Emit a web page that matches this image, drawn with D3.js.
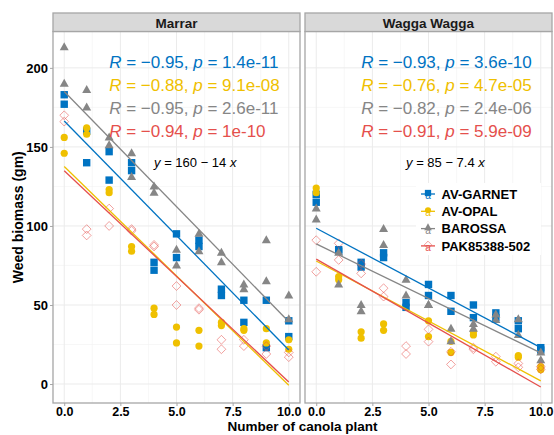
<!DOCTYPE html>
<html>
<head>
<meta charset="utf-8">
<script src="https://cdn.jsdelivr.net/npm/d3@7"></script>
<style>
  body { margin: 0; background: #fff; }
  svg { font-family: "Liberation Sans", Arial, sans-serif; }
</style>
</head>
<body>
<div id="chart"></div>
<script>
const width = 554;
const height = 435;

// ---- data ----
const canola = [0, 1, 2, 3, 4, 5, 6, 7, 8, 9, 10];
const cultivars = ["AV-GARNET", "AV-OPAL", "BAROSSA", "PAK85388-502"];
const sites = ["Marrar", "Wagga Wagga"];

// weed biomass, replicates for each canola density (0..10)
const marrar_garnet = [[183, 177], [160, 140], [147, 129], [140, 135], [77, 72], [95, 80], [91, 87], [60, 56], [53, 39], [53, 23], [40, 30]];
const marrar_opal = [[156, 146], [162, 158], [123, 121], [87, 84], [48, 44], [36, 26], [34, 24], [39, 37], [35, 34], [35, 26], [28, 22]];
const marrar_barossa = [[213, 190], [186, 175], [156, 151], [146, 131], [125, 121], [85, 75], [95, 84], [83, 77], [63, 60], [91, 65], [56, 41]];
const marrar_pak = [[170, 166], [98, 94], [111, 100], [98, 97], [88, 87], [62, 50], [48, 47], [28, 22], [28, 24], [24, 19], [20, 17]];

const wagga_garnet = [[120, 115], [85, 84], [77, 74], [83, 80], [51.5, 48.5], [63, 56], [56, 46], [50, 42], [45, 42], [40, 35], [23, 21.5]];
const wagga_opal = [[124, 121], [68, 66], [33, 29], [38, 34], [], [40, 30], [27, 20], [33, 31], [], [18, 17], [11, 9]];
const wagga_barossa = [[111, 104], [83, 63], [50, 46], [98, 88], [66, 56], [50, 50], [35, 27], [38, 35], [44, 40.5], [41, 31], [20, 15]];
const wagga_pak = [[91, 71], [89, 78.5], [76, 70], [60.6, 55.3], [24, 19], [34.6, 26.8], [20.4, 12.4], [23, 22], [17.3, 14.1], [13, 10.6], [11, 9.3]];

// stat_cor labels
const marrar_R = ["\u22120.95", "\u22120.88", "\u22120.95", "\u22120.94"];
const marrar_p = ["1.4e-11", "9.1e-08", "2.6e-11", "1e-10"];
const wagga_R = ["\u22120.93", "\u22120.76", "\u22120.82", "\u22120.91"];
const wagga_p = ["3.6e-10", "4.7e-05", "2.4e-06", "5.9e-09"];
const eq_intercept = ["160", "85"];
const eq_slope = ["14", "7.4"];

const x_ticks = [0, 2.5, 5, 7.5, 10];
const y_ticks = [0, 50, 100, 150, 200];

// colors / shapes per cultivar
const colors = ["#0073C2", "#EFC000", "#868686", "#E5504C"];
const shapes = ["square", "circle", "triangle", "diamond"];

const site_data = [
  [marrar_garnet, marrar_opal, marrar_barossa, marrar_pak],
  [wagga_garnet, wagga_opal, wagga_barossa, wagga_pak]
];
const site_R = [marrar_R, wagga_R];
const site_p = [marrar_p, wagga_p];

// ---- layout ----
const panels = [
  { left: 53, right: 300 },
  { left: 305, right: 552 }
];
const strip_top = 13;
const panel_top = 31.5;
const panel_bottom = 403;

const svg = d3
  .select("#chart")
  .append("svg")
  .attr("width", width)
  .attr("height", height);

svg.append("rect").attr("width", width).attr("height", height).attr("fill", "#fff");

const y = d3.scaleLinear().domain([-12, 223]).range([panel_bottom, panel_top]);

// flatten replicates to points
function toPoints(reps) {
  let pts = [];
  reps.forEach((vals, i) => vals.forEach((v) => pts.push({ x: canola[i], y: v })));
  return pts;
}

// least squares line
function fit(pts) {
  let mx = d3.mean(pts, (d) => d.x);
  let my = d3.mean(pts, (d) => d.y);
  let sxy = d3.sum(pts, (d) => (d.x - mx) * (d.y - my));
  let sxx = d3.sum(pts, (d) => (d.x - mx) * (d.x - mx));
  let b = sxy / sxx;
  return { a: my - b * mx, b: b };
}

function drawShape(g, shape, cx, cy, color, scale) {
  let s = scale || 1;
  if (shape === "square") {
    let h = 3.7 * s;
    g.append("rect")
      .attr("x", cx - h).attr("y", cy - h)
      .attr("width", 2 * h).attr("height", 2 * h)
      .attr("fill", color);
  } else if (shape === "circle") {
    g.append("circle").attr("cx", cx).attr("cy", cy).attr("r", 3.6 * s).attr("fill", color);
  } else if (shape === "triangle") {
    let r = 5 * s;
    g.append("path")
      .attr("d", `M${cx},${cy - r}L${cx + r * 0.9},${cy + r * 0.6}L${cx - r * 0.9},${cy + r * 0.6}Z`)
      .attr("fill", color);
  } else {
    let r = 4.4 * s;
    g.append("path")
      .attr("d", `M${cx},${cy - r}L${cx + r},${cy}L${cx},${cy + r}L${cx - r},${cy}Z`)
      .attr("fill", "none")
      .attr("stroke", color)
      .attr("stroke-width", 0.9)
      .attr("stroke-opacity", 0.6);
  }
}

sites.forEach((site, si) => {
  let p = panels[si];
  let x = d3.scaleLinear().domain([-0.5, 10.5]).range([p.left, p.right]);
  let g = svg.append("g");

  // grid: minor then major
  let xMinor = [1.25, 3.75, 6.25, 8.75];
  let yMinor = [25, 75, 125, 175];
  g.selectAll(".xminor").data(xMinor).enter().append("line")
    .attr("x1", (d) => x(d)).attr("x2", (d) => x(d))
    .attr("y1", panel_top).attr("y2", panel_bottom)
    .attr("stroke", "#f2f2f2").attr("stroke-width", 0.6);
  g.selectAll(".yminor").data(yMinor).enter().append("line")
    .attr("x1", p.left).attr("x2", p.right)
    .attr("y1", (d) => y(d)).attr("y2", (d) => y(d))
    .attr("stroke", "#f2f2f2").attr("stroke-width", 0.6);
  g.selectAll(".xmajor").data(x_ticks).enter().append("line")
    .attr("x1", (d) => x(d)).attr("x2", (d) => x(d))
    .attr("y1", panel_top).attr("y2", panel_bottom)
    .attr("stroke", "#ebebeb").attr("stroke-width", 1);
  g.selectAll(".ymajor").data(y_ticks).enter().append("line")
    .attr("x1", p.left).attr("x2", p.right)
    .attr("y1", (d) => y(d)).attr("y2", (d) => y(d))
    .attr("stroke", "#ebebeb").attr("stroke-width", 1);

  // points
  let groups = site_data[si];
  groups.forEach((reps, ci) => {
    let pg = g.append("g");
    toPoints(reps).forEach((d) => drawShape(pg, shapes[ci], x(d.x), y(d.y), colors[ci]));
  });

  // regression lines
  groups.forEach((reps, ci) => {
    let f = fit(toPoints(reps));
    g.append("line")
      .attr("x1", x(0)).attr("y1", y(f.a))
      .attr("x2", x(10)).attr("y2", y(f.a + f.b * 10))
      .attr("stroke", colors[ci])
      .attr("stroke-width", 1.3);
  });

  // correlation labels
  let rowY = [204, 189, 174.5, 160];
  cultivars.forEach((c, ci) => {
    let t = g.append("text")
      .attr("x", x(2))
      .attr("y", y(rowY[ci]))
      .attr("dy", "0.36em")
      .attr("fill", colors[ci])
      .attr("font-size", 17);
    t.append("tspan").attr("font-style", "italic").text("R");
    t.append("tspan").text(` = ${site_R[si][ci]}, `);
    t.append("tspan").attr("font-style", "italic").text("p");
    t.append("tspan").text(` = ${site_p[si][ci]}`);
  });

  // equation label
  let eq = g.append("text")
    .attr("x", x(4))
    .attr("y", y(140))
    .attr("dy", "0.36em")
    .attr("fill", "#000")
    .attr("font-size", 13);
  eq.append("tspan").attr("font-style", "italic").text("y");
  eq.append("tspan").text(` = ${eq_intercept[si]} \u2212 ${eq_slope[si]} `);
  eq.append("tspan").attr("font-style", "italic").text("x");

  // panel border
  g.append("rect")
    .attr("x", p.left).attr("y", panel_top)
    .attr("width", p.right - p.left).attr("height", panel_bottom - panel_top)
    .attr("fill", "none").attr("stroke", "#a6a6a6").attr("stroke-width", 1.3);

  // strip
  g.append("rect")
    .attr("x", p.left).attr("y", strip_top)
    .attr("width", p.right - p.left).attr("height", panel_top - strip_top)
    .attr("fill", "#d9d9d9").attr("stroke", "#a6a6a6").attr("stroke-width", 1.3);
  g.append("text")
    .attr("x", (p.left + p.right) / 2)
    .attr("y", 27.5)
    .attr("text-anchor", "middle")
    .attr("font-weight", "bold")
    .attr("font-size", 13.5)
    .attr("fill", "#1a1a1a")
    .text(site);

  // x axis
  let xa = g.append("g").attr("transform", `translate(0,${panel_bottom})`)
    .call(d3.axisBottom(x).tickValues(x_ticks).tickFormat(d3.format(".1f")).tickSize(3).tickPadding(1));
  xa.select(".domain").remove();
  xa.selectAll("line").attr("stroke", "#a6a6a6");
  xa.selectAll("text").attr("font-size", 12.5).attr("font-weight", "bold").attr("fill", "#000")
    .attr("font-family", "'Liberation Sans', Arial, sans-serif");

  // y axis on first panel only
  if (si === 0) {
    let ya = g.append("g").attr("transform", `translate(${p.left},0)`)
      .call(d3.axisLeft(y).tickValues(y_ticks).tickSize(3).tickPadding(2));
    ya.select(".domain").remove();
    ya.selectAll("line").attr("stroke", "#a6a6a6");
    ya.selectAll("text").attr("font-size", 13).attr("font-weight", "bold").attr("fill", "#000")
      .attr("font-family", "'Liberation Sans', Arial, sans-serif");
  }
});

// axis titles
svg.append("text")
  .attr("x", (panels[0].left + panels[1].right) / 2)
  .attr("y", 431)
  .attr("text-anchor", "middle")
  .attr("font-weight", "bold")
  .attr("font-size", 13.5)
  .text("Number of canola plant");

svg.append("text")
  .attr("transform", `translate(23,${(panel_top + panel_bottom) / 2}) rotate(-90)`)
  .attr("text-anchor", "middle")
  .attr("font-weight", "bold")
  .attr("font-size", 14)
  .text("Weed biomass (gm)");

// legend inside right panel
let legend = svg.append("g");
legend.append("rect")
  .attr("x", 416).attr("y", 183)
  .attr("width", 125).attr("height", 72)
  .attr("fill", "#fff");
cultivars.forEach((c, ci) => {
  let ly = 194 + ci * 17.3;
  let kx = 428;
  legend.append("line")
    .attr("x1", kx - 7).attr("x2", kx + 7)
    .attr("y1", ly).attr("y2", ly)
    .attr("stroke", colors[ci]).attr("stroke-width", 1.3);
  drawShape(legend, shapes[ci], kx, ly - 1, colors[ci], 0.85);
  legend.append("text")
    .attr("x", kx).attr("y", ly + 5)
    .attr("text-anchor", "middle")
    .attr("font-size", 10)
    .attr("fill", colors[ci])
    .text("a");
  legend.append("text")
    .attr("x", 441.5).attr("y", ly)
    .attr("dy", "0.36em")
    .attr("font-size", 13)
    .attr("font-weight", "bold")
    .attr("fill", "#000")
    .text(c);
});
</script>
</body>
</html>
